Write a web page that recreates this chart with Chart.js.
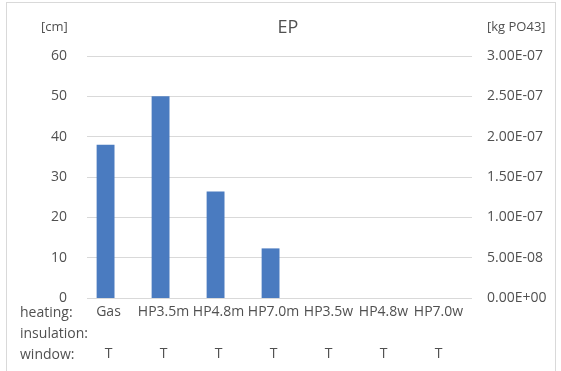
<!DOCTYPE html>
<html>
<head>
<meta charset="utf-8">
<script src="https://cdn.jsdelivr.net/npm/chart.js@4"></script>
<style>
  html,body{margin:0;padding:0;background:#fff}
  #wrap{position:relative;width:561px;height:371px}
  #frame{position:absolute;left:6px;top:2px;width:550px;height:380px;border:1px solid #d9d9d9;box-sizing:border-box}
  canvas{position:absolute;left:0;top:0}
</style>
</head>
<body>
<div id="wrap">
  <div id="frame"></div>
  <canvas id="chart" width="561" height="371"></canvas>
</div>
<script>
// ======= Data =======
const heating = ['Gas','HP3.5m','HP4.8m','HP7.0m','HP3.5w','HP4.8w','HP7.0w'];
const insulation = ['','','','','','',''];
const windowType = ['T','T','T','T','T','T','T'];
const epValues = [1.90e-7, 2.50e-7, 1.32e-7, 6.15e-8, null, null, null];   // [kg PO43]
const cmValues = [null, null, null, null, null, null, null];              // [cm], empty
const rowHeaders = ['heating:','insulation:','window:'];
const leftTicks = {min:0, max:60, step:10};
const rightTicks = {min:0, max:3e-7, step:5e-8};

const txt = '#505050';
const font = '"Open Sans", "Noto Sans", sans-serif';

function fmtSci(v){
  const s = Number(v).toExponential(2).toUpperCase();
  const m = s.match(/^(-?[\d.]+)E([+-])(\d+)$/);
  return m ? m[1]+'E'+m[2]+m[3].padStart(2,'0') : s;
}

// Title, unit labels and row headers
const extraText = {
  id:'extraText',
  afterDraw(chart){
    const ctx = chart.ctx, a = chart.chartArea;
    ctx.save();
    ctx.fillStyle = txt;
    ctx.textBaseline = 'middle';
    ctx.font = '18px '+font;
    ctx.textAlign = 'center';
    ctx.fillText('EP', 288, 28);
    ctx.font = '13px '+font;
    ctx.textAlign = 'left';
    ctx.fillText('[cm]', 41, 27);
    ctx.fillText('[kg PO43]', 487, 27);
    ctx.font = '14px '+font;
    rowHeaders.forEach((h,i)=>ctx.fillText(h, 20, a.bottom + 15 + i*21));
    ctx.restore();
  }
};

const labels = heating.map((h,i)=>[h, insulation[i], windowType[i]]);

new Chart(document.getElementById('chart'), {
  type:'bar',
  data:{
    labels,
    datasets:[
      {label:'EP', data:epValues, yAxisID:'y2', backgroundColor:'#4a7bc0',
       categoryPercentage:0.65, barPercentage:1.0},
      {label:'cm', data:cmValues, yAxisID:'y', backgroundColor:'#ed7d31',
       categoryPercentage:0.65, barPercentage:1.0}
    ]
  },
  options:{
    responsive:false, animation:false,
    layout:{padding:{top:56,left:0,right:0,bottom:0}},
    plugins:{legend:{display:false}, tooltip:{enabled:false}, title:{display:false}},
    scales:{
      x:{
        grid:{display:false, drawTicks:false}, border:{display:false},
        ticks:{color:txt, font:{family:font, size:14, lineHeight:1.5}, padding:4,
               labelOffset:-6, autoSkip:false, maxRotation:0, minRotation:0},
        afterFit(s){ s.height = 73; }
      },
      y:{
        position:'left', min:leftTicks.min, max:leftTicks.max,
        grid:{color:'#d9d9d9', drawTicks:false}, border:{display:false},
        ticks:{stepSize:leftTicks.step, color:txt, font:{family:font, size:14}, padding:20},
        afterFit(s){ s.width = 87; }
      },
      y2:{
        position:'right', min:rightTicks.min, max:rightTicks.max,
        grid:{display:false, drawTicks:false}, border:{display:false},
        ticks:{stepSize:rightTicks.step, color:txt, font:{family:font, size:14}, padding:15,
               callback:v=>fmtSci(v)},
        afterFit(s){ s.width = 89; }
      }
    }
  },
  plugins:[extraText]
});
</script>
</body>
</html>
